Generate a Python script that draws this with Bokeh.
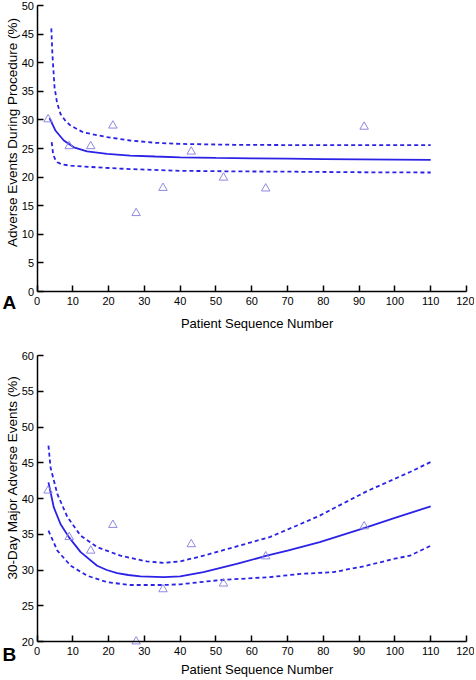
import math
from bokeh.plotting import figure
from bokeh.layouts import column
from bokeh.models import Label, FixedTicker, Range1d, LinearAxis
from bokeh.embed import file_html
from bokeh.resources import INLINE

# ---- data ----
seq = [3.1, 9.0, 15.0, 21.2, 27.7, 35.2, 43.1, 52.1, 63.9, 91.4]
adverse_proc = [30.1, 25.4, 25.4, 29.0, 13.7, 18.1, 24.45, 19.9, 18.0, 28.8]
major_30day = [41.1, 34.6, 32.7, 36.3, 20.0, 27.3, 33.6, 28.1, 31.9, 36.1]

a_fit_x = [3.5, 5.2, 7.5, 10.3, 14, 19.6, 26, 33, 40, 50, 60, 70, 80, 90, 100, 110]
a_fit_y = [30.3, 28.1, 26.4, 25.2, 24.5, 24.05, 23.76, 23.6, 23.46, 23.35, 23.28, 23.22, 23.15, 23.1, 23.05, 23.0]
a_up_x = [4.0, 4.3, 4.9, 5.6, 6.6, 8.0, 9.4, 13, 19.6, 26, 33, 40, 55, 70, 90, 110]
a_up_y = [46.0, 41.5, 35.7, 33.0, 31.0, 29.8, 29.0, 27.8, 27.0, 26.4, 26.0, 25.8, 25.65, 25.6, 25.6, 25.6]
a_lo_x = [4.1, 4.5, 5.0, 5.7, 7.0, 9.4, 13, 16.8, 26, 40, 55, 70, 90, 110]
a_lo_y = [26.1, 24.05, 23.2, 22.6, 22.2, 22.0, 21.85, 21.7, 21.4, 21.1, 21.0, 20.95, 20.85, 20.8]

b_fit_x = [3.2, 4.7, 6.6, 8.9, 12.2, 16.8, 19.5, 22.4, 25.5, 28.9, 35.4, 40, 46.5, 55.8, 64.2, 70, 79, 91.6, 100, 110]
b_fit_y = [42.25, 38.75, 36.4, 34.6, 32.5, 30.6, 30.0, 29.55, 29.3, 29.1, 29.0, 29.1, 29.7, 30.85, 32.0, 32.7, 33.9, 35.9, 37.3, 38.9]
b_up_x = [3.2, 3.8, 5.7, 8.5, 12.2, 16.8, 23.3, 30.7, 35.4, 40, 46.5, 55.8, 65, 73.5, 79, 82.8, 92.1, 104.2, 110]
b_up_y = [47.4, 44.3, 40.6, 37.4, 34.8, 33.2, 32.0, 31.2, 31.0, 31.2, 32.0, 33.3, 34.6, 36.4, 37.6, 38.6, 41.0, 43.7, 45.1]
b_lo_x = [3.2, 5.7, 9.4, 14, 19.6, 26, 35.4, 40, 51.2, 65, 73.5, 82.8, 92.1, 99.5, 104.2, 110]
b_lo_y = [35.5, 32.7, 30.6, 29.2, 28.3, 27.9, 27.9, 28.0, 28.6, 29.0, 29.45, 29.7, 30.6, 31.55, 32.0, 33.4]

x_ticks = list(range(0, 121, 10))
x_title = "Patient Sequence Number"

LINE = "#2b22e6"
MARK = "#8f8ae0"
FONT = "Liberation Sans"

W = 474            # figure width (px)
X0 = 36.5          # pixel position of x = 0
SX = 429.5 / 120   # px per x unit


def panel(letter, ylabel, ylo, yhi, ys, fx, fy, ux, uy, lx, ly,
          H, top_px, frame_px, ytitle_px, xtitle_px, letter_px):
    sy = frame_px / float(yhi - ylo)
    y_end = yhi + top_px / sy
    y_start = y_end - H / sy
    x_start = -X0 / SX
    x_end = x_start + W / SX
    p = figure(width=W, height=H, output_backend="svg", toolbar_location=None,
               x_range=Range1d(x_start, x_end), y_range=Range1d(y_start, y_end),
               x_axis_location=None, y_axis_location=None,
               min_border_left=0, min_border_right=0, min_border_top=0,
               min_border_bottom=0, background_fill_color="white",
               border_fill_color="white")
    p.outline_line_color = None
    p.grid.visible = False

    p.line(ux, uy, line_color=LINE, line_width=1.8, line_dash="4 3")
    p.line(lx, ly, line_color=LINE, line_width=1.8, line_dash="4 3")
    p.line(fx, fy, line_color=LINE, line_width=1.8)
    p.scatter(seq, ys, marker="triangle", size=8.5, fill_color=None,
              line_color=MARK, line_width=1)

    ax = LinearAxis(fixed_location=ylo, bounds=(0, 120),
                    ticker=FixedTicker(ticks=x_ticks),
                    major_tick_in=6, major_tick_out=0, major_label_standoff=5)
    ay = LinearAxis(fixed_location=0, bounds=(ylo, yhi),
                    ticker=FixedTicker(ticks=list(range(ylo, yhi + 1, 5))),
                    major_tick_in=6, major_tick_out=0, major_label_standoff=3)
    for a in (ax, ay):
        a.minor_tick_line_color = None
        a.axis_line_width = 1.5
        a.major_tick_line_width = 1.5
        a.axis_line_color = "black"
        a.major_tick_line_color = "black"
        a.major_label_text_font = FONT
        a.major_label_text_font_size = "11px"
        a.major_label_text_color = "black"
    p.add_layout(ax, "below")
    p.add_layout(ay, "left")

    # axis titles and panel letter
    p.add_layout(Label(x=61.5, y=ylo - xtitle_px / sy, text=x_title,
                       text_font=FONT, text_font_size="13px",
                       text_color="black", text_align="center",
                       text_baseline="alphabetic"))
    p.add_layout(Label(x=(11.5 - X0) / SX, y=yhi - ytitle_px / sy,
                       text=ylabel, angle=math.pi / 2, text_font=FONT,
                       text_font_size="13.5px", text_color="black",
                       text_align="center", text_baseline="middle"))
    p.add_layout(Label(x=(2 - X0) / SX, y=ylo - letter_px / sy, text=letter,
                       text_font=FONT, text_font_size="19px",
                       text_font_style="bold", text_color="black",
                       text_align="left", text_baseline="alphabetic"))
    return p


pa = panel("A", "Adverse Events During Procedure (%)", 0, 50, adverse_proc,
           a_fit_x, a_fit_y, a_up_x, a_up_y, a_lo_x, a_lo_y,
           H=338, top_px=5, frame_px=286, ytitle_px=127, xtitle_px=32,
           letter_px=11)
pb = panel("B", "30-Day Major Adverse Events (%)", 20, 60, major_30day,
           b_fit_x, b_fit_y, b_up_x, b_up_y, b_lo_x, b_lo_y,
           H=340, top_px=17, frame_px=286, ytitle_px=122, xtitle_px=28,
           letter_px=13)

layout = column(pa, pb, spacing=0)
open("out.html", "w").write(file_html(layout, INLINE))
